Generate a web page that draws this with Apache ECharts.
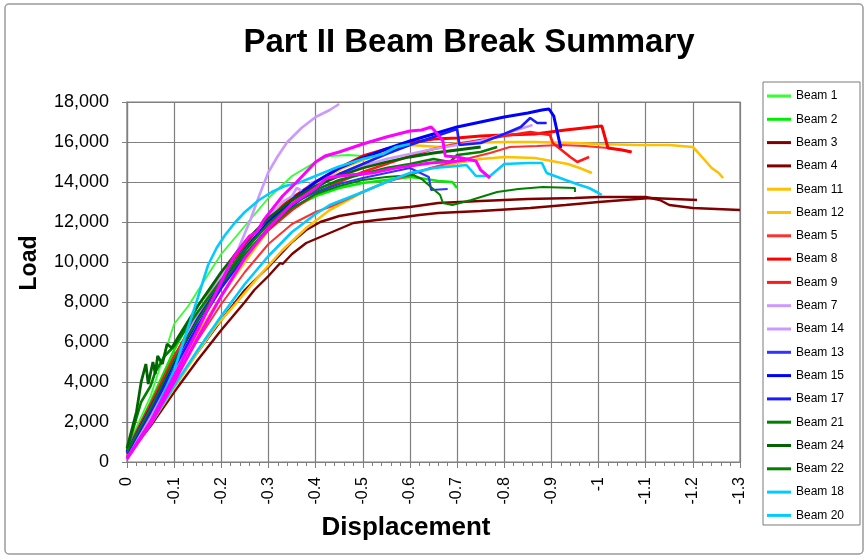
<!DOCTYPE html>
<html>
<head>
<meta charset="utf-8">
<script src="https://cdn.jsdelivr.net/npm/echarts@6/dist/echarts.min.js"></script>
<style>
  html, body { margin: 0; padding: 0; background: #fff; }
  #chart { width: 868px; height: 560px; }
</style>
</head>
<body>
<div id="chart"></div>
<script>
// Load (lb) against displacement (in) for each beam, [displacement, load]
const beam1 = [[0,700],[-0.05,3300],[-0.1,6900],[-0.13,7800],[-0.17,9300],[-0.2,10400],[-0.25,11800],[-0.3,13200],[-0.35,14300],[-0.4,15000],[-0.43,15300],[-0.47,15350],[-0.5,15300]];
const beam2 = [[0,500],[-0.05,3000],[-0.1,5600],[-0.15,7800],[-0.2,9400],[-0.25,10800],[-0.3,11900],[-0.35,12700],[-0.4,13300],[-0.45,13700],[-0.5,13950],[-0.55,14100],[-0.6,14250],[-0.62,14200],[-0.66,14050],[-0.69,14000],[-0.7,13700]];
const beam3 = [[0,400],[-0.05,2000],[-0.1,3800],[-0.15,5500],[-0.2,7100],[-0.25,8600],[-0.28,9300],[-0.3,9750],[-0.32,10250],[-0.35,11000],[-0.38,11600],[-0.41,12000],[-0.45,12300],[-0.5,12500],[-0.55,12650],[-0.6,12750],[-0.66,12950],[-0.75,13050],[-0.85,13150],[-0.95,13200],[-1.0,13250],[-1.1,13250],[-1.13,13100],[-1.15,12850],[-1.2,12700],[-1.25,12650],[-1.3,12600]];
const beam4 = [[0,300],[-0.05,1800],[-0.1,3500],[-0.15,5100],[-0.2,6600],[-0.25,8000],[-0.27,8600],[-0.3,9300],[-0.325,9950],[-0.33,9900],[-0.35,10400],[-0.38,10950],[-0.43,11450],[-0.48,11950],[-0.53,12100],[-0.573,12200],[-0.62,12350],[-0.66,12450],[-0.75,12550],[-0.855,12700],[-0.93,12850],[-1.0,13000],[-1.11,13200],[-1.209,13100]];
const beam11 = [[0,350],[-0.05,2200],[-0.1,4300],[-0.15,6400],[-0.2,8300],[-0.25,10000],[-0.3,11600],[-0.35,12900],[-0.4,13900],[-0.458,14700],[-0.5,15100],[-0.55,15500],[-0.6,15850],[-0.664,15750],[-0.7,15950],[-0.8,16000],[-0.865,16000],[-0.95,15950],[-1.0,15900],[-1.08,15850],[-1.15,15850],[-1.2,15750],[-1.21,15500],[-1.225,15100],[-1.24,14700],[-1.255,14450],[-1.264,14200]];
const beam12 = [[0,250],[-0.05,1900],[-0.1,3700],[-0.15,5500],[-0.187,6750],[-0.23,7900],[-0.28,9300],[-0.33,10600],[-0.38,11700],[-0.43,12600],[-0.5,13500],[-0.55,14000],[-0.6,14400],[-0.65,14700],[-0.7,14950],[-0.75,15150],[-0.8,15250],[-0.865,15200],[-0.9,15050],[-0.935,14900],[-0.96,14700],[-0.986,14450]];
const beam5 = [[0,300],[-0.05,2200],[-0.1,4200],[-0.15,6100],[-0.2,7900],[-0.25,9500],[-0.3,10900],[-0.35,11900],[-0.4,12500],[-0.43,12750],[-0.5,13500],[-0.55,14000],[-0.6,14350],[-0.643,14700],[-0.7,15050],[-0.727,15200],[-0.77,15450],[-0.812,15750],[-0.87,15800],[-0.92,15850],[-0.97,15800],[-1.02,15700],[-1.05,15600],[-1.07,15500]];
const beam8 = [[0,500],[-0.05,2800],[-0.1,5200],[-0.15,7400],[-0.2,9300],[-0.25,10900],[-0.3,12200],[-0.35,13200],[-0.4,14000],[-0.45,14700],[-0.5,15300],[-0.55,15650],[-0.6,15950],[-0.65,16150],[-0.7,16200],[-0.75,16300],[-0.8,16350],[-0.865,16400],[-0.93,16600],[-1.007,16800],[-1.02,15700],[-1.05,15600],[-1.07,15500]];
const beam9 = [[0,600],[-0.05,2900],[-0.1,5300],[-0.15,7200],[-0.2,8800],[-0.25,10300],[-0.3,11600],[-0.35,12600],[-0.4,13400],[-0.45,14000],[-0.5,14500],[-0.55,14900],[-0.6,15300],[-0.65,15650],[-0.7,15900],[-0.75,16100],[-0.8,16300],[-0.855,16500],[-0.897,16350],[-0.903,15950],[-0.94,15250],[-0.955,15000],[-0.98,15250]];
const beam7 = [[0,600],[-0.05,2600],[-0.1,5000],[-0.15,7400],[-0.2,9300],[-0.235,10600],[-0.26,12000],[-0.28,13300],[-0.3,14500],[-0.32,15300],[-0.34,16000],[-0.37,16700],[-0.4,17250],[-0.43,17600],[-0.45,17900]];
const beam14 = [[0,400],[-0.05,2300],[-0.1,4600],[-0.15,6800],[-0.2,8800],[-0.25,10600],[-0.3,12200],[-0.33,13000],[-0.35,13300],[-0.36,13700],[-0.375,13500],[-0.39,13950],[-0.42,14200],[-0.45,14400],[-0.5,14800],[-0.55,15150],[-0.6,15400],[-0.65,15650],[-0.7,15850],[-0.75,16050],[-0.8,16400],[-0.86,16850]];
const beam13 = [[0,400],[-0.05,2600],[-0.1,5000],[-0.15,7200],[-0.2,9000],[-0.25,10700],[-0.3,12000],[-0.35,12900],[-0.4,13500],[-0.45,13900],[-0.5,14200],[-0.55,14450],[-0.6,14700],[-0.64,14250],[-0.645,13600],[-0.68,13650]];
const beam15 = [[0,500],[-0.05,2700],[-0.1,5000],[-0.15,7100],[-0.2,8900],[-0.25,10600],[-0.3,12000],[-0.35,13100],[-0.4,14000],[-0.45,14700],[-0.5,15200],[-0.55,15650],[-0.6,16050],[-0.65,16400],[-0.7,16750],[-0.75,17000],[-0.8,17250],[-0.85,17450],[-0.88,17600],[-0.895,17650],[-0.905,17300],[-0.92,15700]];
const beam17 = [[0,450],[-0.05,2500],[-0.1,4700],[-0.15,6800],[-0.2,8700],[-0.25,10300],[-0.3,11700],[-0.35,12800],[-0.4,13700],[-0.45,14400],[-0.5,14900],[-0.55,15400],[-0.6,15850],[-0.65,16250],[-0.7,16650],[-0.705,15850],[-0.75,15950],[-0.8,16400],[-0.835,16750],[-0.855,17200],[-0.87,16950],[-0.89,16950]];
const beam21 = [[0,600],[-0.03,3000],[-0.05,3800],[-0.06,4500],[-0.08,5300],[-0.1,5800],[-0.15,7500],[-0.2,9100],[-0.25,10600],[-0.3,11900],[-0.35,12900],[-0.4,13600],[-0.45,14100],[-0.5,14400],[-0.55,14700],[-0.6,14900],[-0.65,15150],[-0.685,15000],[-0.7,15350],[-0.75,15500],[-0.785,15750]];
const beam24 = [[0,700],[-0.02,2500],[-0.03,4000],[-0.04,4900],[-0.045,3900],[-0.055,5000],[-0.06,4400],[-0.065,5300],[-0.075,4900],[-0.085,5900],[-0.095,5700],[-0.11,6300],[-0.15,7800],[-0.2,9500],[-0.25,11000],[-0.3,12200],[-0.35,13100],[-0.4,13800],[-0.45,14300],[-0.5,14700],[-0.55,15000],[-0.6,15250],[-0.65,15450],[-0.7,15600],[-0.75,15750]];
const beam22 = [[0,500],[-0.05,2700],[-0.1,5100],[-0.15,7100],[-0.2,8900],[-0.25,10400],[-0.3,11700],[-0.35,12700],[-0.4,13400],[-0.45,13800],[-0.5,14100],[-0.55,14250],[-0.607,14350],[-0.625,14150],[-0.664,13350],[-0.67,12950],[-0.69,12850],[-0.73,13100],[-0.785,13500],[-0.83,13650],[-0.882,13750],[-0.95,13700],[-0.95,13500]];
const beam18 = [[0,200],[-0.05,2000],[-0.1,4600],[-0.15,8200],[-0.172,9850],[-0.19,10700],[-0.208,11350],[-0.23,12000],[-0.25,12500],[-0.28,13100],[-0.307,13500],[-0.335,13800],[-0.363,13950],[-0.4,14300],[-0.447,14750],[-0.5,15150],[-0.543,15400],[-0.57,15750],[-0.6,15900]];
const beam20 = [[0,200],[-0.05,1900],[-0.1,3800],[-0.15,5600],[-0.2,7300],[-0.25,8900],[-0.3,10300],[-0.35,11500],[-0.4,12400],[-0.43,12850],[-0.5,13500],[-0.55,14000],[-0.6,14450],[-0.65,14700],[-0.7,14800],[-0.72,14850],[-0.74,14300],[-0.77,14300],[-0.8,14900],[-0.85,14950],[-0.88,14950],[-0.89,14450],[-0.93,14100],[-0.96,13850],[-0.98,13700],[-1.0,13450],[-1.007,13350]];
const beam10 = [[0,200],[-0.05,2000],[-0.1,4300],[-0.15,6600],[-0.2,9000],[-0.225,10200],[-0.25,11000],[-0.26,11300],[-0.275,11500],[-0.29,12100],[-0.31,12700],[-0.33,13300],[-0.36,14000],[-0.4,15000],[-0.42,15300],[-0.45,15500],[-0.5,15900],[-0.55,16250],[-0.6,16550],[-0.625,16600],[-0.645,16750],[-0.655,16500],[-0.67,16050],[-0.675,15300],[-0.7,15250],[-0.74,15050],[-0.75,14600],[-0.77,14200]];
const beam16 = [[0,150],[-0.05,1900],[-0.1,4000],[-0.15,6200],[-0.2,8300],[-0.25,10200],[-0.3,11700],[-0.35,12900],[-0.4,13700],[-0.424,14200],[-0.47,14350],[-0.52,14450],[-0.57,14700],[-0.643,14950],[-0.7,15050],[-0.72,15100]];

// Axis ticks
const loadTicks = [0, 2000, 4000, 6000, 8000, 10000, 12000, 14000, 16000, 18000];
const dispTicks = [0, -0.1, -0.2, -0.3, -0.4, -0.5, -0.6, -0.7, -0.8, -0.9, -1, -1.1, -1.2, -1.3];

// Series in drawing order; the last two are not listed in the legend box
const seriesNames = ['Beam 1','Beam 2','Beam 3','Beam 4','Beam 11','Beam 12','Beam 5','Beam 8','Beam 9','Beam 7','Beam 14','Beam 13','Beam 15','Beam 17','Beam 21','Beam 24','Beam 22','Beam 18','Beam 20','Beam 10','Beam 16'];
const seriesData = [beam1, beam2, beam3, beam4, beam11, beam12, beam5, beam8, beam9, beam7, beam14, beam13, beam15, beam17, beam21, beam24, beam22, beam18, beam20, beam10, beam16];
const legendNames = seriesNames.slice(0, 19);

// Line styles: [colour, width]
const lineLook = {
  'Beam 1': ['#33ff33', 1.8], 'Beam 2': ['#00ee00', 2.6],
  'Beam 3': ['#800000', 2.4], 'Beam 4': ['#800000', 2.4],
  'Beam 11': ['#ffc000', 2.6], 'Beam 12': ['#ffc000', 2.6],
  'Beam 5': ['#ff3030', 2.0], 'Beam 8': ['#ff0000', 3.0], 'Beam 9': ['#ff1a1a', 2.6],
  'Beam 7': ['#cc99ff', 2.6], 'Beam 14': ['#cc99ff', 2.6],
  'Beam 13': ['#3333ff', 2.2], 'Beam 15': ['#0000ff', 3.0], 'Beam 17': ['#1a1aff', 2.6],
  'Beam 21': ['#008000', 2.6], 'Beam 24': ['#006400', 2.8], 'Beam 22': ['#008000', 2.0],
  'Beam 18': ['#00ccff', 2.6], 'Beam 20': ['#00ccff', 2.6],
  'Beam 10': ['#ff00ff', 3.0], 'Beam 16': ['#ff00ff', 3.0]
};

const FONT = "'Liberation Sans', Arial, sans-serif";
const GRID_GREY = '#7f7f7f';
const chart = echarts.init(document.getElementById('chart'), null, { renderer: 'canvas' });

const series = seriesNames.map((name, i) => ({
  name: name,
  type: 'line',
  data: seriesData[i],
  symbol: 'none',
  smooth: false,
  animation: false,
  lineStyle: { color: lineLook[name][0], width: lineLook[name][1] },
  itemStyle: { color: lineLook[name][0] }
}));

chart.setOption({
  animation: false,
  backgroundColor: '#ffffff',
  textStyle: { fontFamily: FONT },
  title: {
    text: 'Part II Beam Break Summary',
    left: 464, top: 21, textAlign: 'center',
    textStyle: { fontFamily: FONT, fontSize: 33, fontWeight: 'bold', color: '#000' }
  },
  graphic: [
    { type: 'rect', shape: { x: 5, y: 4, width: 858, height: 550, r: 4 }, style: { fill: null, stroke: '#9a9a9a', lineWidth: 1.5 }, silent: true, z: -10 },
    { type: 'rect', shape: { x: 763, y: 82, width: 97, height: 443 }, style: { fill: '#fff', stroke: '#7a7a7a', lineWidth: 1 }, silent: true, z: -5 },
    { type: 'text', x: 30, y: 263, rotation: Math.PI / 2, style: { text: 'Load', fontFamily: FONT, fontSize: 23, fontWeight: 'bold', fill: '#000', align: 'center', verticalAlign: 'middle' } },
    { type: 'text', x: 406, y: 528, style: { text: 'Displacement', fontFamily: FONT, fontSize: 26, fontWeight: 'bold', fill: '#000', align: 'center', verticalAlign: 'middle' } }
  ],
  legend: {
    data: legendNames,
    orient: 'vertical',
    left: 763, top: 86,
    padding: [4, 4, 4, 4],
    icon: 'rect',
    itemWidth: 24, itemHeight: 3, itemGap: 11.3,
    textStyle: { fontFamily: FONT, fontSize: 12, color: '#000' },
    selectedMode: false
  },
  grid: { left: 127, top: 102, right: 128, bottom: 98, containLabel: false, show: true, borderColor: GRID_GREY, borderWidth: 1.2 },
  xAxis: {
    type: 'value',
    min: dispTicks[dispTicks.length - 1], max: dispTicks[0], interval: 0.1,
    inverse: true,
    axisLine: { show: true, onZero: false, lineStyle: { color: GRID_GREY, width: 1.2 } },
    axisTick: { show: true, inside: false, length: 6, lineStyle: { color: GRID_GREY } },
    minorTick: { show: true, splitNumber: 5, length: 4, lineStyle: { color: GRID_GREY } },
    splitLine: { show: true, lineStyle: { color: GRID_GREY, width: 1.2 } },
    axisLabel: {
      rotate: 90, margin: 15, fontFamily: FONT, fontSize: 16, color: '#000',
      formatter: v => String(Math.round(v * 10) / 10)
    }
  },
  yAxis: {
    type: 'value',
    min: loadTicks[0], max: loadTicks[loadTicks.length - 1], interval: 2000,
    axisLine: { show: true, lineStyle: { color: GRID_GREY, width: 1.2 } },
    axisTick: { show: true, inside: false, length: 5, lineStyle: { color: GRID_GREY } },
    splitLine: { show: true, lineStyle: { color: GRID_GREY, width: 1.2 } },
    axisLabel: {
      margin: 18, fontFamily: FONT, fontSize: 18, color: '#000',
      formatter: v => v.toLocaleString('en-US')
    }
  },
  series: series
});
</script>
</body>
</html>
